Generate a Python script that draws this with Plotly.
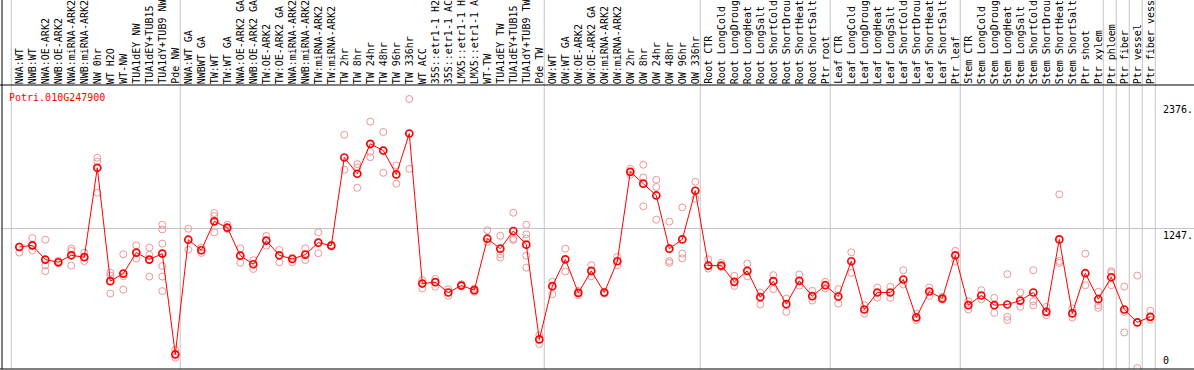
import plotly.graph_objects as go

# ---------------- data ----------------
samples = [
    "NWA:WT", "NWB:WT", "NWA:OE-ARK2", "NWB:OE-ARK2", "NWA:miRNA-ARK2", "NWB:miRNA-ARK2",
    "NW 0hr", "WT H2O", "WT-NW", "TUA1dEY NW", "TUA1dEY+TUB15 NW", "TUA1dY+TUB9 NW", "Pde NW",
    "NWA:WT GA", "NWBWT GA", "TW:WT", "TW:WT GA", "NWA:OE-ARK2 GA", "NWB:OE-ARK2 GA",
    "TW:OE-ARK2", "TW:OE-ARK2 GA", "NWA:miRNA-ARK2 GA", "NWB:miRNA-ARK2 GA", "TW:miRNA-ARK2",
    "TW:miRNA-ARK2 GA", "TW 2hr", "TW 8hr", "TW 24hr", "TW 48hr", "TW 96hr", "TW 336hr",
    "WT ACC", "35S::etr1-1 H2O", "35S::etr1-1 ACC", "LMX5::etr1-1 H2O", "LMX5::etr1-1 ACC",
    "WT-TW", "TUA1dEY TW", "TUA1dEY+TUB15 TW", "TUA1dY+TUB9 TW", "Pde TW",
    "OW:WT", "OW:WT GA", "OW:OE-ARK2", "OW:OE-ARK2 GA", "OW:miRNA-ARK2", "OW:miRNA-ARK2 GA",
    "OW 2hr", "OW 8hr", "OW 24hr", "OW 48hr", "OW 96hr", "OW 336hr",
    "Root CTR", "Root LongCold", "Root LongDrought", "Root LongHeat", "Root LongSalt",
    "Root ShortCold", "Root ShortDrought", "Root ShortHeat", "Root ShortSalt", "Ptr root",
    "Leaf CTR", "Leaf LongCold", "Leaf LongDrought", "Leaf LongHeat", "Leaf LongSalt",
    "Leaf ShortCold", "Leaf ShortDrought", "Leaf ShortHeat", "Leaf ShortSalt", "Ptr leaf",
    "Stem CTR", "Stem LongCold", "Stem LongDrought", "Stem LongHeat", "Stem LongSalt",
    "Stem ShortCold", "Stem ShortDrought", "Stem ShortHeat", "Stem ShortSalt", "Ptr shoot",
    "Ptr xylem", "Ptr phloem", "Ptr fiber", "Ptr vessel", "Ptr fiber vessel",
]

mean_values = [
    1080, 1095, 968, 944, 1006, 989, 1787, 775, 843, 1030, 968, 1021, 122,
    1145, 1051, 1309, 1253, 1003, 926, 1137, 1006, 973, 1012, 1119, 1092,
    1879, 1734, 2001, 1941, 1728, 2093, 754, 766, 674, 736, 695,
    1154, 1065, 1223, 1101, 255,
    730, 970, 671, 867, 674, 953, 1751, 1645, 1540, 1065, 1148, 1582,
    914, 914, 769, 867, 632, 775, 570, 778, 641, 739,
    638, 953, 522, 674, 674, 790, 451, 683, 620, 1006,
    561, 647, 561, 567, 602, 674, 501, 1148, 487, 846,
    614, 810, 522, 407, 457,
]

replicates = [
    [1084, 1030, 1080], [1160, 1050, 1095], [1145, 917, 864], [955, 935],
    [1066, 1045, 914], [1030, 990, 955], [1877, 1844, 1565], [851, 825, 665],
    [1015, 819, 700], [1095, 976], [1075, 1010, 816], [1279, 1237, 1110, 911, 816, 686],
    [161, 92],
    [1243, 1056], [1027, 1075], [1383, 1356, 1211], [1280, 1240], [1068, 940],
    [962, 884], [1178, 1092], [1053, 943], [985, 943], [1068, 964], [1211, 1024],
    [1100, 1085], [2081, 1769], [1820, 1790, 1609], [2199, 1929, 1882], [2107, 1742],
    [1808, 1645], [2401, 1778], [784, 710], [796, 725], [704, 644], [748, 730],
    [710, 680], [1229, 1125], [1181, 1015, 985], [1386, 1154, 1142],
    [1279, 1193, 1154, 1003, 896], [294, 214],
    [769, 659], [1065, 861], [689, 650], [918, 819], [680, 665], [991, 918],
    [1778, 1724], [1814, 1701, 1443], [1680, 1615, 1324], [1306, 955, 938],
    [1434, 1021, 979], [1662, 1511],
    [970, 887], [938, 900], [823, 733], [932, 819], [674, 567], [829, 704],
    [620, 501], [835, 736], [689, 602], [769, 710],
    [704, 575], [1033, 849], [561, 484], [718, 629], [724, 626], [873, 745],
    [487, 427], [718, 644], [635, 610], [1045, 955],
    [596, 522], [695, 614], [626, 492], [837, 457, 427], [674, 546],
    [873, 596, 558], [546, 472], [1550, 955, 938], [531, 451], [1021, 739],
    [681, 561, 537], [864, 849, 739], [727, 501, 317], [825, 0], [511, 430],
]

group_sizes = [13, 28, 12, 10, 10, 11, 1, 1, 1, 1]

y_tick_values = [2376, 1247, 0]
y_tick_labels = ["2376.", "1247.", "0"]

gene_id = "Potri.010G247900"

# ---------------- figure ----------------
MONO = "DejaVu Sans Mono"
x_idx = list(range(len(samples)))

rep_x, rep_y = [], []
for i, reps in enumerate(replicates):
    for v in reps:
        rep_x.append(i)
        rep_y.append(v)

fig = go.Figure()
fig.add_trace(go.Scatter(
    x=rep_x, y=rep_y, mode="markers",
    marker=dict(symbol="circle-open", size=7, color="rgb(238,150,150)",
                line=dict(width=1, color="rgb(238,150,150)")),
    hoverinfo="skip", showlegend=False,
))
fig.add_trace(go.Scatter(
    x=x_idx, y=mean_values, mode="lines+markers",
    line=dict(color="#ff0000", width=1),
    marker=dict(symbol="circle-open", size=7, color="#ff0000",
                line=dict(width=1.7, color="#ff0000")),
    showlegend=False,
))

# group separator lines
shapes = []
bounds = [-0.5]
acc = 0
for g in group_sizes:
    acc += g
    bounds.append(acc - 0.5)
for b in bounds:
    shapes.append(dict(type="line", xref="x", yref="paper", x0=b - 0.12, x1=b - 0.12,
                       y0=0, y1=1.35, line=dict(color="#c4c4c4", width=1), layer="below"))
# frame lines
shapes.append(dict(type="line", xref="paper", yref="paper", x0=-0.01, x1=1.01, y0=1, y1=1,
                   line=dict(color="black", width=1)))
shapes.append(dict(type="line", xref="paper", yref="paper", x0=-0.01, x1=1.01, y0=0, y1=0,
                   line=dict(color="black", width=1)))
shapes.append(dict(type="line", xref="paper", yref="paper", x0=0, x1=0, y0=0, y1=1.35,
                   line=dict(color="black", width=1)))

annotations = [dict(text=gene_id, xref="paper", yref="paper", x=0.0045, y=1,
                    xanchor="left", yanchor="top", yshift=-5, showarrow=False,
                    font=dict(family=MONO, size=10, color="#ff0000"))]
for v, t in zip(y_tick_values, y_tick_labels):
    annotations.append(dict(text=t, xref="paper", yref="y", x=0.9725, y=v,
                            xanchor="left", yanchor="bottom" if v == 0 else "top",
                            showarrow=False, font=dict(family=MONO, size=10, color="black")))
# sample labels above the plot, reading upwards
for i, name in zip(x_idx, samples):
    annotations.append(dict(text=name, xref="x", yref="paper", x=i, y=1,
                            xanchor="center", yanchor="bottom", textangle=-90,
                            yshift=-1, showarrow=False,
                            font=dict(family=MONO, size=10, color="black")))

fig.update_layout(
    width=1194, height=370,
    margin=dict(l=2, r=0, t=85, b=1, pad=0),
    paper_bgcolor="white", plot_bgcolor="white",
    shapes=shapes, annotations=annotations,
    xaxis=dict(range=[-1.331, 90.361], showticklabels=False, ticks="",
               showgrid=False, zeroline=False, showline=False, automargin=False,
               fixedrange=True),
    yaxis=dict(range=[-8.93, 2526], tickmode="array", tickvals=[1247],
               showticklabels=False, ticks="", showgrid=True, gridcolor="#c4c4c4",
               gridwidth=1, zeroline=False, showline=False, automargin=False,
               fixedrange=True),
    font=dict(family=MONO, size=10),
)

fig.write_html("out.html", config={"displayModeBar": False},
               post_script="document.body.style.margin='0';document.body.style.overflow='hidden';")
